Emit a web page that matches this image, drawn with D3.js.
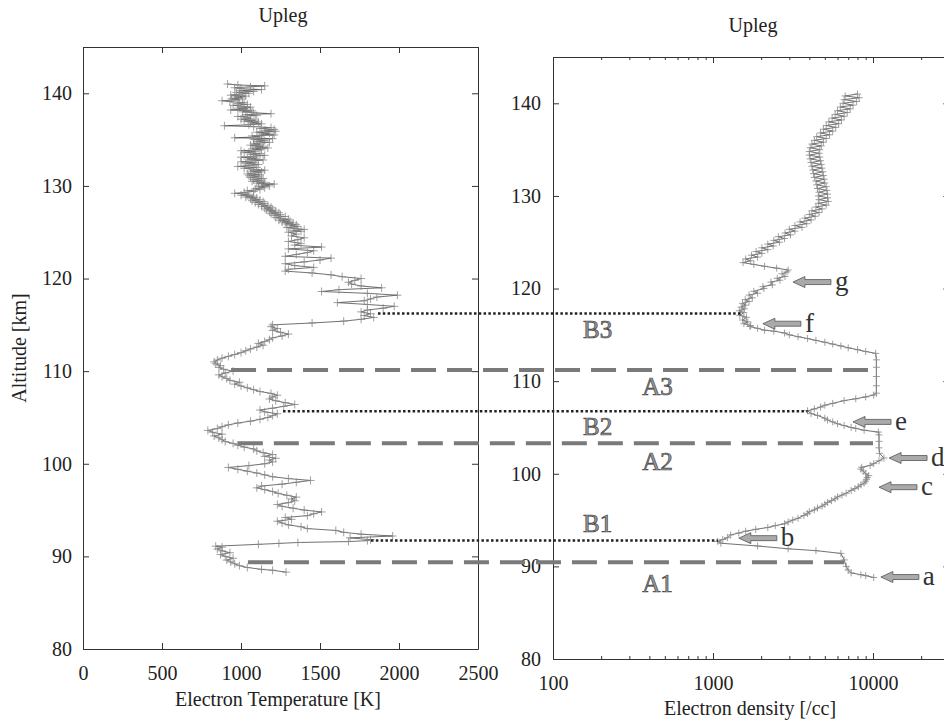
<!DOCTYPE html>
<html>
<head>
<meta charset="utf-8">
<script src="https://cdn.jsdelivr.net/npm/d3@7"></script>
<style>
  body { margin: 0; background: #fff; }
  svg { display: block; }
</style>
</head>
<body>
<div id="chart"></div>
<script>
// temperature profile, upleg: [altitude km, Te K]
var tempProfile = [
  [88.3,1285],[88.5,1200],[88.6,1130],[88.8,1040],[89.0,990],[89.2,960],[89.4,935],[89.6,910],
  [89.8,950],[90.0,900],[90.2,870],[90.4,930],[90.6,880],[90.8,850],[91.0,880],[91.1,840],
  [91.3,1110],[91.4,1240],[91.5,1360],[91.6,1680],[91.7,1800],[91.8,1820],[92.0,1690],[92.2,1960],
  [92.4,1760],[92.6,1650],[92.8,1600],[93.0,1420],[93.2,1380],[93.4,1300],[93.6,1260],[93.8,1230],
  [94.0,1320],[94.2,1280],[94.4,1420],[94.6,1460],[94.8,1510],[95.0,1400],[95.2,1330],[95.4,1260],
  [95.6,1230],[95.8,1300],[96.0,1340],[96.2,1320],[96.4,1350],[96.6,1290],[96.8,1235],[97.0,1200],
  [97.2,1150],[97.4,1100],[97.6,1130],[97.8,1260],[98.0,1350],[98.2,1440],[98.4,1300],[98.6,1200],
  [98.8,1150],[99.0,1100],[99.2,1040],[99.4,980],[99.6,920],[99.8,1050],[100.0,1150],[100.2,1200],
  [100.4,1180],[100.6,1220],[100.8,1150],[101.0,1200],[101.2,1140],[101.4,1100],[101.6,1080],[101.8,1020],
  [102.0,980],[102.2,950],[102.4,900],[102.6,880],[102.8,860],[103.0,830],[103.2,880],[103.4,820],
  [103.6,790],[103.8,850],[104.0,880],[104.2,920],[104.4,980],[104.6,1060],[104.8,1120],[105.0,1170],
  [105.2,1200],[105.4,1230],[105.6,1150],[105.8,1120],[106.0,1200],[106.2,1270],[106.4,1340],[106.6,1280],
  [106.8,1220],[107.0,1180],[107.2,1200],[107.4,1230],[107.6,1190],[107.8,1120],[108.0,1080],[108.2,1040],
  [108.4,1000],[108.6,960],[108.8,990],[109.0,930],[109.2,910],[109.4,880],[109.6,860],[109.8,900],
  [110.0,950],[110.2,890],[110.4,860],[110.6,870],[110.8,840],[111.0,830],[111.2,850],[111.4,880],
  [111.6,920],[111.8,960],[112.0,1000],[112.2,1030],[112.4,1060],[112.6,1100],[112.8,1140],[113.0,1110],
  [113.2,1150],[113.4,1180],[113.6,1200],[113.8,1260],[114.0,1300],[114.2,1250],[114.4,1200],[114.6,1230],
  [114.8,1190],[115.0,1200],[115.2,1450],[115.4,1650],[115.6,1760],[115.8,1840],[116.0,1780],[116.2,1820],
  [116.4,1760],[116.6,1800],[116.8,1900],[117.0,1970],[117.2,1800],[117.4,1610],[117.6,1780],[117.8,1820],
  [118.0,1860],[118.2,1990],[118.4,1800],[118.6,1510],[118.8,1620],[119.0,1890],[119.2,1760],[119.4,1700],
  [119.6,1680],[119.8,1720],[120.0,1760],[120.2,1640],[120.4,1570],[120.6,1450],[120.8,1280],[121.0,1300],
  [121.2,1460],[121.4,1340],[121.6,1280],[121.8,1400],[122.0,1500],[122.2,1570],[122.4,1280],[122.6,1350],
  [122.8,1420],[123.0,1460],[123.2,1300],[123.4,1510],[123.6,1340],[123.8,1380],[124.0,1300],[124.2,1360],
  [124.4,1400],[124.6,1320],[124.8,1350],
  [125.0,1300],[125.1,1380],[125.2,1330],[125.3,1400],[125.4,1340],[125.5,1290],[125.6,1360],[125.7,1310],[125.8,1350],[125.9,1280],
  [126.0,1330],[126.1,1260],[126.2,1310],[126.3,1240],[126.4,1300],[126.5,1250],[126.6,1220],[126.7,1280],[126.8,1210],[126.9,1250],
  [127.0,1190],[127.1,1240],[127.2,1180],[127.3,1220],[127.4,1160],[127.5,1200],[127.6,1150],[127.7,1190],[127.8,1130],[127.9,1170],
  [128.0,1110],[128.1,1150],[128.2,1090],[128.3,1140],[128.4,1070],[128.5,1120],[128.6,1060],[128.7,1100],[128.8,1030],[128.9,1080],
  [129.0,1000],[129.1,1050],[129.2,960],[129.3,1020],[129.4,1080],[129.5,1040],[129.6,1120],[129.7,1090],[129.8,1150],[129.9,1110],
  [130.0,1180],[130.1,1130],[130.2,1210],[130.3,1100],[130.4,1150],[130.5,1070],[130.6,1130],[130.7,1080],[130.8,1140],[130.9,1060],
  [131.0,1110],[131.1,1050],[131.2,1120],[131.3,1040],[131.4,1090],[131.5,1130],[131.6,1060],[131.7,1150],[131.8,1080],[131.9,1020],
  [132.0,1100],[132.1,980],[132.2,1050],[132.3,1110],[132.4,1030],[132.5,1090],[132.6,1000],[132.7,1070],[132.8,1140],[132.9,1040],
  [133.0,1100],[133.1,1000],[133.2,1080],[133.3,1150],[133.4,1060],[133.5,1120],[133.6,1020],[133.7,1090],[133.8,1000],[133.9,1130],
  [134.0,1070],[134.1,1170],[134.2,1090],[134.3,1140],[134.4,1060],[134.5,1120],[134.6,1080],[134.7,1180],[134.8,1100],[134.9,1150],
  [135.0,1080],[135.1,1200],[135.2,960],[135.3,1120],[135.4,1070],[135.5,1210],[135.6,1130],[135.7,1180],[135.8,1100],[135.9,1220],
  [136.0,1150],[136.1,1210],[136.2,1120],[136.3,1190],[136.4,1080],[136.5,895],[136.6,1050],[136.7,1130],[136.8,1060],[136.9,1110],
  [137.0,1020],[137.1,1090],[137.2,1000],[137.3,1060],[137.4,1040],[137.5,980],[137.6,1100],[137.7,1030],[137.8,1190],[137.9,1080],
  [138.0,1010],[138.1,1070],[138.2,935],[138.3,1040],[138.4,980],[138.5,1060],[138.6,1000],[138.7,950],[138.8,1040],[138.9,980],
  [139.0,1020],[139.1,930],[139.2,880],[139.3,990],[139.4,940],[139.5,1010],[139.6,960],[139.7,1030],[139.8,935],[139.9,990],
  [140.0,1050],[140.1,970],[140.2,1080],[140.3,990],[140.4,1130],[140.5,1000],[140.6,960],[140.7,1060],[140.8,1150],[140.9,980],[141.0,915]
];

// electron density profile, upleg: [altitude km, Ne /cc]
var densProfile = [
  [88.8,10100],[89.0,9000],[89.1,8400],[89.3,7300],[89.6,7000],[90.0,6800],[90.7,6600],[91.4,6300],
  [91.7,4400],[91.9,2950],[92.2,1900],[92.5,1120],[92.7,1070],[92.9,1150],[93.1,1230],[93.4,1290],
  [93.6,1450],[93.8,1600],[94.0,1850],[94.2,2200],[94.4,2450],[94.6,2800],[94.8,2950],[95.0,3150],
  [95.2,3400],[95.5,3700],[95.7,3900],[95.9,4000],[96.1,4300],[96.3,4500],[96.5,4800],[96.7,5000],
  [96.9,5200],[97.1,5500],[97.3,5800],[97.5,6000],[97.7,6400],[97.9,6800],[98.2,7300],[98.4,7700],
  [98.6,8100],[98.8,8400],[99.0,8800],[99.2,9000],[99.4,9100],[99.6,9200],[99.8,9400],[100.0,9000],
  [100.3,8700],[100.5,8400],[100.7,8500],[100.9,9600],[101.1,10100],[101.4,10900],[101.7,11700],
  [102.2,11000],[102.8,10900],[103.5,10900],[104.2,10900],[104.5,10800],
  [104.7,8800],[104.9,7800],[105.0,7300],[105.2,6600],[105.4,6000],[105.6,5600],[105.8,5200],[106.0,5000],
  [106.3,4500],[106.5,4100],[106.8,3900],[107.0,4300],[107.2,4700],[107.4,5000],[107.6,5600],[107.9,6600],
  [108.1,7800],[108.3,9000],[108.5,10100],[108.7,10500],
  [109.5,10500],[110.5,10500],[111.5,10500],[112.3,10500],[113.0,10400],
  [113.2,9000],[113.4,8000],[113.6,7000],[113.8,6300],[114.0,5600],[114.2,5000],[114.4,4400],[114.6,3900],
  [114.8,3400],[115.0,3000],[115.2,2800],[115.4,2400],[115.5,2100],[115.7,1900],[115.9,1700],[116.0,1720],
  [116.2,1560],[116.4,1650],[116.6,1530],[116.9,1620],[117.1,1470],[117.4,1560],[117.6,1460],[117.8,1570],
  [118.0,1500],[118.2,1600],[118.4,1530],[118.6,1680],[118.8,1590],[119.0,1760],[119.3,1680],[119.5,1900],
  [119.7,1800],[120.0,2080],[120.2,2050],[120.4,2350],[120.7,2300],[120.9,2620],[121.1,2520],[121.3,2820],
  [121.6,2700],[121.8,2900],[122.0,2950],[122.2,2500],[122.4,2100],[122.6,1800],[122.8,1540],
  [123.0,1720],[123.2,1600],[123.4,1900],[123.6,1740],[123.8,2020],[124.0,1860],[124.2,2200],[124.4,2020],
  [124.6,2380],[124.8,2200],[125.0,2600],[125.2,2400],[125.4,2800],[125.6,2560],[125.8,3050],[126.0,2820],
  [126.2,3250],[126.4,3000],[126.6,3600],[126.8,3250],[127.0,3850],[127.2,3500],[127.4,4100],[127.6,3750],
  [127.8,4350],[128.0,4000],[128.2,4600],[128.4,4150],[128.6,4800],[128.8,4400],[129.0,5100],[129.2,4550],
  [129.4,5250],[129.6,4600],[129.8,5200],[130.0,4550],[130.2,5200],[130.4,4600],[130.6,5150],[130.8,4500],
  [131.0,5100],[131.2,4450],[131.4,5000],[131.6,4400],[131.8,4950],[132.0,4300],[132.2,4900],[132.4,4250],
  [132.6,4850],[132.8,4200],[133.0,4800],[133.2,4150],[133.4,4750],[133.6,4100],[133.8,4700],[134.0,4050],
  [134.2,4650],[134.4,4000],[134.6,4600],[134.8,4000],[135.0,4650],[135.2,4050],[135.4,4750],[135.6,4150],
  [135.8,4900],[136.0,4300],[136.2,5100],[136.4,4450],[136.6,5350],[136.8,4700],[137.0,5600],[137.2,4900],
  [137.4,5850],[137.6,5100],[137.8,6100],[138.0,5300],[138.2,6350],[138.4,5550],[138.6,6600],[138.8,5800],
  [139.0,6900],[139.2,6000],[139.4,7200],[139.6,6250],[139.8,7500],[140.0,6500],[140.2,7900],[140.4,6600],
  [140.6,8200],[140.8,6700],[141.0,8000]
];

// ticks
var tempTicks = [0, 500, 1000, 1500, 2000, 2500];
var altTicks = [80, 90, 100, 110, 120, 130, 140];
var densMajor = [100, 1000, 10000];

// region boundaries (dashed) and layer peaks (dotted): altitude, start Te on left panel, end Ne on right panel
var regionLines = [
  { alt: 111.2, fromT: 937, toN: 9300 },
  { alt: 103.3, fromT: 980, toN: 10000 },
  { alt: 90.45, fromT: 1044, toN: 6600 }
];
var layerLines = [
  { alt: 117.3, fromT: 1867, toN: 1500 },
  { alt: 106.75, fromT: 1266, toN: 3900 },
  { alt: 92.8, fromT: 1823, toN: 1073 }
];
var zoneLabels = [
  { text: "B3", alt: 114.7, n: 190 },
  { text: "A3", alt: 108.5, n: 450 },
  { text: "B2", alt: 104.2, n: 190 },
  { text: "A2", alt: 100.4, n: 450 },
  { text: "B1", alt: 93.7, n: 190 },
  { text: "A1", alt: 87.2, n: 450 }
];
var featureArrows = [
  { text: "g", alt: 120.7, n: 3160 },
  { text: "f", alt: 116.2, n: 2050 },
  { text: "e", alt: 105.6, n: 7500 },
  { text: "d", alt: 101.7, n: 12600 },
  { text: "c", alt: 98.55, n: 10900 },
  { text: "b", alt: 93.05, n: 1450 },
  { text: "a", alt: 88.85, n: 11200 }
];

var FONT = "'Liberation Serif', 'Times New Roman', serif";
var W = 944, H = 722;
var svg = d3.select("#chart").append("svg").attr("width", W).attr("height", H)
  .style("font-family", FONT);

// scales
var xT = d3.scaleLinear().domain([0, 2500]).range([83, 478]);
var yL = d3.scaleLinear().domain([80, 145]).range([649, 47]);
var xN = d3.scaleLog().domain([100, 30000]).range([553, 553 + 160 * Math.log10(300)]);
var yR = d3.scaleLinear().domain([80, 145]).range([659, 57]);

function styleAxis(g) {
  g.selectAll(".domain").attr("stroke", "#333").attr("stroke-width", 1);
  g.selectAll(".tick line").attr("stroke", "#333");
  g.selectAll("text").style("font-family", FONT).style("font-size", "20px").attr("fill", "#222");
}

// left panel axes
svg.append("g").attr("transform", "translate(0,649)")
  .call(d3.axisBottom(xT).tickValues(tempTicks).tickFormat(d3.format("d")).tickSize(-6).tickSizeOuter(0).tickPadding(17))
  .call(styleAxis);
svg.append("g").attr("transform", "translate(0,47)")
  .call(d3.axisTop(xT).tickValues(tempTicks).tickSize(-6).tickSizeOuter(0).tickFormat(""))
  .call(styleAxis);
svg.append("g").attr("transform", "translate(83,0)")
  .call(d3.axisLeft(yL).tickValues(altTicks).tickSize(-6).tickSizeOuter(0).tickPadding(11))
  .call(styleAxis);
svg.append("g").attr("transform", "translate(478,0)")
  .call(d3.axisRight(yL).tickValues(altTicks).tickSize(-6).tickSizeOuter(0).tickFormat(""))
  .call(styleAxis);

// right panel axes (log, minor ticks shorter)
var densTicks = xN.ticks();
function densFmt(d) { return densMajor.indexOf(d) >= 0 ? d : ""; }
svg.append("g").attr("transform", "translate(0,659)")
  .call(d3.axisBottom(xN).tickValues(densTicks).tickFormat(densFmt).tickSize(-6).tickSizeOuter(0).tickPadding(17))
  .call(styleAxis)
  .call(function (g) {
    g.selectAll(".tick line").attr("y2", function (d) { return densMajor.indexOf(d) >= 0 ? -6 : -3; });
  });
svg.append("g").attr("transform", "translate(0,57)")
  .call(d3.axisTop(xN).tickValues(densTicks).tickFormat("").tickSize(-6).tickSizeOuter(0))
  .call(styleAxis)
  .call(function (g) {
    g.selectAll(".tick line").attr("y2", function (d) { return densMajor.indexOf(d) >= 0 ? 6 : 3; });
  });
svg.append("g").attr("transform", "translate(553,0)")
  .call(d3.axisLeft(yR).tickValues(altTicks).tickSize(-6).tickSizeOuter(0).tickPadding(12))
  .call(styleAxis);
svg.append("g").attr("transform", "translate(" + xN.range()[1] + ",0)")
  .call(d3.axisRight(yR).tickValues(altTicks).tickSize(-6).tickSizeOuter(0).tickFormat(""))
  .call(styleAxis);

// titles and axis labels
function label(x, y, txt, rot) {
  svg.append("text")
    .attr("transform", "translate(" + x + "," + y + ")" + (rot ? "rotate(-90)" : ""))
    .attr("text-anchor", "middle").attr("fill", "#222")
    .style("font-family", FONT).style("font-size", "20px").text(txt);
}
label(283, 22, "Upleg");
label(753, 32, "Upleg");
label(278, 706, "Electron Temperature [K]");
label(750, 715, "Electron density [/cc]");
label(26, 348, "Altitude [km]", true);

// profiles: thin line + crosses
function crossPath(x, y, s) {
  return "M" + (x - s) + "," + y + "h" + 2 * s + "M" + x + "," + (y - s) + "v" + 2 * s;
}

var lineT = d3.line().x(function (d) { return xT(d[1]); }).y(function (d) { return yL(d[0]); });
svg.append("path").datum(tempProfile).attr("d", lineT)
  .attr("fill", "none").attr("stroke", "#333").attr("stroke-width", 0.7);
svg.append("g").selectAll("path").data(tempProfile).join("path")
  .attr("d", function (d) { return crossPath(xT(d[1]), yL(d[0]), 4); })
  .attr("stroke", "#888").attr("stroke-width", 0.8).attr("fill", "none");

var lineN = d3.line().x(function (d) { return xN(d[1]); }).y(function (d) { return yR(d[0]); });
svg.append("path").datum(densProfile).attr("d", lineN)
  .attr("fill", "none").attr("stroke", "#333").attr("stroke-width", 0.7);
svg.append("g").selectAll("path").data(densProfile).join("path")
  .attr("d", function (d) { return crossPath(xN(d[1]), yR(d[0]), 3.5); })
  .attr("stroke", "#888").attr("stroke-width", 0.8).attr("fill", "none");

// horizontal level lines across both panels
svg.append("g").selectAll("line").data(regionLines).join("line")
  .attr("x1", function (d) { return xT(d.fromT); })
  .attr("x2", function (d) { return xN(d.toN); })
  .attr("y1", function (d) { return yR(d.alt); })
  .attr("y2", function (d) { return yR(d.alt); })
  .attr("stroke", "#7a7a7a").attr("stroke-width", 4).attr("stroke-dasharray", "25,11");
svg.append("g").selectAll("line").data(layerLines).join("line")
  .attr("x1", function (d) { return xT(d.fromT); })
  .attr("x2", function (d) { return xN(d.toN); })
  .attr("y1", function (d) { return yR(d.alt); })
  .attr("y2", function (d) { return yR(d.alt); })
  .attr("stroke", "#222").attr("stroke-width", 2.5).attr("stroke-dasharray", "2.5,2.3");

// zone labels
svg.append("g").selectAll("text").data(zoneLabels).join("text")
  .attr("x", function (d) { return xN(d.n); })
  .attr("y", function (d) { return yR(d.alt); })
  .attr("text-anchor", "middle")
  .style("font-family", FONT).style("font-size", "25px")
  .attr("fill", "#999").attr("stroke", "#444").attr("stroke-width", 0.7)
  .text(function (d) { return d.text; });

// feature arrows
var arrows = svg.append("g").selectAll("g").data(featureArrows).join("g")
  .attr("transform", function (d) { return "translate(" + xN(d.n) + "," + yR(d.alt) + ")"; });
arrows.append("path")
  .attr("d", "M0,0L12,-5.5L12,-2.5L38,-2.5L38,2.5L12,2.5L12,5.5Z")
  .attr("fill", "#aaa").attr("stroke", "#555").attr("stroke-width", 0.8);
arrows.append("text").attr("x", 42).attr("y", 8)
  .style("font-family", FONT).style("font-size", "27px").attr("fill", "#333")
  .text(function (d) { return d.text; });
</script>
</body>
</html>
